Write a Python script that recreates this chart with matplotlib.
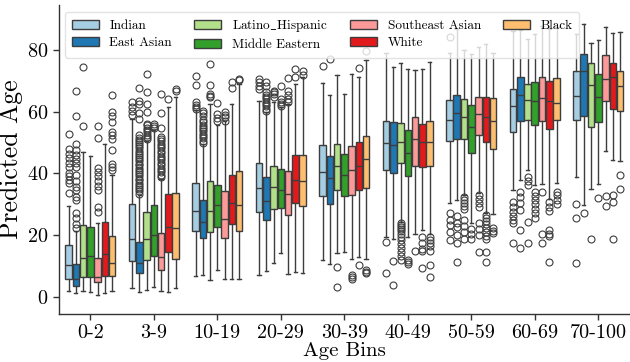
import matplotlib
matplotlib.use('Agg')
import matplotlib.pyplot as plt
from matplotlib.patches import Patch
import numpy as np

plt.rcParams['font.family'] = ['cmr10', 'DejaVu Serif']
plt.rcParams['mathtext.fontset'] = 'cm'
plt.rcParams['axes.formatter.use_mathtext'] = True

age_bins = ['0-2', '3-9', '10-19', '20-29', '30-39', '40-49', '50-59', '60-69', '70-100']
races = ['Indian', 'East Asian', 'Latino_Hispanic', 'Middle Eastern',
         'Southeast Asian', 'White', 'Black']
legend_labels = ['Indian', 'East Asian', r'Latino$\_$Hispanic', 'Middle Eastern',
                 'Southeast Asian', 'White', 'Black']
colors = ['#a6cee3', '#1f78b4', '#b2df8a', '#33a02c', '#fb9a99', '#e31a1c', '#fdbf6f']

# rows: races, columns: age bins
whis_lo = [
    [2.0, 2.8, 6.6, 7.1, 11.9, 19.5, 30.5, 34.5, 38.8],
    [1.4, 1.5, 7.0, 8.5, 10.6, 18.6, 31.3, 37.7, 29.9],
    [2.0, 2.3, 5.5, 11.1, 14.1, 24.3, 32.9, 41.2, 35.0],
    [1.7, 3.3, 8.7, 14.1, 14.6, 19.3, 24.0, 36.1, 36.4],
    [0.6, 1.9, 5.7, 7.3, 12.4, 20.5, 33.5, 36.4, 47.4],
    [1.2, 1.5, 5.7, 8.2, 12.8, 21.8, 27.0, 31.8, 44.2],
    [2.0, 3.0, 5.7, 7.6, 12.4, 20.5, 26.8, 36.9, 44.0],
]
q1 = [
    [5.7, 11.7, 21.2, 27.5, 32.7, 41.2, 50.4, 53.5, 57.3],
    [3.5, 7.6, 19.1, 24.8, 30.2, 40.2, 51.0, 56.9, 58.7],
    [6.3, 11.9, 21.0, 28.5, 34.5, 43.3, 51.2, 57.3, 54.9],
    [6.3, 13.3, 22.7, 28.7, 32.6, 39.0, 46.7, 55.7, 56.6],
    [4.7, 8.7, 19.1, 26.5, 33.0, 42.3, 52.5, 56.8, 63.5],
    [6.9, 14.5, 23.5, 30.3, 34.7, 42.1, 50.1, 54.4, 60.9],
    [6.6, 12.3, 21.2, 29.5, 35.3, 42.3, 48.0, 57.4, 60.1],
]
median = [
    [10.2, 18.6, 27.8, 35.4, 40.6, 49.8, 57.4, 61.7, 64.9],
    [5.7, 10.9, 24.4, 30.9, 38.5, 49.2, 59.6, 65.4, 73.0],
    [12.6, 18.7, 27.7, 35.7, 42.5, 50.2, 58.2, 63.8, 68.7],
    [13.2, 19.9, 29.7, 34.5, 39.6, 46.6, 54.9, 63.5, 64.6],
    [6.3, 13.0, 25.2, 33.2, 41.2, 51.0, 59.3, 64.4, 70.5],
    [13.8, 22.7, 30.5, 38.0, 42.5, 50.1, 58.2, 63.5, 71.3],
    [11.0, 22.2, 29.7, 37.5, 44.5, 50.0, 57.1, 62.8, 68.2],
]
q3 = [
    [16.8, 30.2, 37.0, 43.2, 49.1, 56.8, 63.8, 67.3, 73.0],
    [10.6, 17.7, 31.4, 38.8, 45.7, 56.6, 65.5, 71.1, 78.6],
    [23.2, 27.4, 37.6, 42.5, 49.4, 56.4, 64.1, 68.9, 75.9],
    [22.6, 29.8, 36.2, 41.4, 46.3, 54.1, 62.2, 69.7, 72.3],
    [12.5, 20.7, 34.2, 40.7, 48.9, 58.2, 64.8, 71.1, 78.4],
    [24.4, 33.2, 39.4, 45.8, 50.1, 56.0, 64.8, 70.0, 75.6],
    [19.7, 33.8, 40.9, 46.0, 52.0, 56.8, 64.4, 70.8, 73.2],
]
whis_hi = [
    [29.4, 57.6, 60.5, 63.5, 69.1, 79.1, 79.1, 86.1, 85.1],
    [21.3, 32.9, 49.4, 59.8, 65.5, 74.5, 86.7, 86.3, 88.5],
    [46.9, 50.5, 62.5, 63.0, 71.8, 75.9, 79.9, 83.4, 82.1],
    [45.6, 54.0, 55.8, 61.4, 65.7, 73.8, 78.8, 85.0, 83.1],
    [23.8, 38.3, 56.8, 62.5, 72.1, 73.5, 81.0, 87.7, 87.4],
    [49.6, 61.4, 62.5, 68.9, 71.3, 73.8, 82.0, 86.7, 85.6],
    [39.4, 64.6, 68.9, 71.3, 76.7, 76.1, 79.1, 87.4, 85.9],
]
fliers_indian = [
    [33.5, 36.8, 38.0, 39.2, 40.1, 42.0, 43.3, 45.0, 46.2, 48.0, 52.9],
    [59.0, 60.1, 61.4, 63.0],
    [60.8, 61.5, 62.2, 63.0, 68.5, 71.5],
    [67.3, 68.4, 69.5, 70.5],
    [74.7],
    [7.6, 17.8],
    [18.5, 21.1, 23.3, 24.9, 27.0, 84.2],
    [17.3, 23.8, 25.0, 26.3, 27.5, 29.0, 30.7],
    [11.1, 25.6, 30.0],
]
fliers_east_asian = [
    [22.2, 23.5, 25.5, 27.0, 31.3, 32.5, 34.5, 35.5, 37.5, 39.5, 42.0, 43.5, 44.7,
     46.0, 47.5, 49.6, 58.7, 66.8],
    [33.4, 34.2, 34.8, 35.6, 36.1, 36.9, 37.7, 38.2, 39.0, 39.8, 40.3, 41.2, 41.8,
     42.6, 43.1, 43.9, 44.7, 45.2, 46.1, 46.6, 47.4, 48.2, 48.7, 49.5, 50.3, 50.8,
     51.6, 52.3, 57.5, 59.7, 62.4, 63.5, 67.7],
    [49.8, 50.6, 51.3, 52.1, 52.8, 53.6, 54.3, 55.1, 55.8, 56.6, 57.3, 58.5, 59.5, 60.3],
    [60.3, 61.0, 61.8, 62.5, 63.2, 64.0, 64.8, 65.5, 66.2, 68.4, 69.5],
    [77.0],
    [3.9, 11.6],
    [11.4, 17.5, 20.0, 22.5, 24.0, 26.1],
    [15.7, 21.6, 28.1, 30.5, 32.5, 34.0],
    [27.0],
]
fliers_latino = [
    [55.2, 74.4],
    [51.0, 51.8, 52.5, 53.3, 54.0, 54.8, 55.5, 56.0, 59.8, 62.5, 66.5, 72.2],
    [64.6, 65.1, 65.7, 68.6, 75.4],
    [64.8, 65.6, 66.2, 66.7],
    [3.3, 9.8],
    [12.0, 13.2, 14.5, 15.8, 17.0, 18.3, 19.5, 20.5, 21.3, 22.0, 22.7, 23.3, 23.8],
    [18.9, 21.0, 23.0, 24.8, 28.6, 29.5, 30.5, 31.5, 32.4],
    [17.3, 24.3, 36.1, 37.5, 38.8],
    [18.7],
]
fliers_middle_eastern = [
    [],
    [54.6, 55.3, 56.0],
    [57.1, 58.0, 59.3, 62.8],
    [61.8, 62.5, 63.2, 64.0, 68.4],
    [],
    [10.8, 11.3, 11.9],
    [18.6, 20.5, 22.0],
    [25.4, 27.0, 28.5, 30.0, 31.5, 32.8, 34.0],
    [32.1],
]
fliers_southeast_asian = [
    [27.5, 29.0, 34.5, 36.0, 37.5, 39.0, 40.5, 41.6, 51.5, 55.3],
    [38.8, 39.6, 40.3, 41.1, 41.8, 42.7, 43.4, 44.2, 45.0, 45.7, 46.5, 47.4, 48.1,
     48.9, 49.6, 50.4, 51.0, 51.7, 54.7, 59.5, 65.7],
    [57.1, 58.2, 59.0, 59.8],
    [63.0, 64.2, 65.5, 66.7, 70.8],
    [5.7, 6.5, 7.1],
    [14.9],
    [14.6, 20.0, 22.0, 24.0, 29.1, 30.5, 31.8, 32.9],
    [17.3, 20.5, 34.0],
    [29.4, 32.8],
]
fliers_white = [
    [],
    [64.1],
    [67.6, 69.5],
    [71.1, 73.8],
    [10.3, 74.1],
    [9.2, 15.0, 15.5, 17.5, 19.4],
    [11.4, 14.6, 18.6, 19.8, 21.0, 22.3, 23.5, 24.5, 25.5, 26.5],
    [11.2, 19.8, 20.5, 21.5, 27.8, 29.2, 30.7],
    [18.9, 30.7, 33.1],
]
fliers_black = [
    [41.0, 42.0, 43.0, 47.6, 51.0, 52.5, 53.3, 56.6, 58.7, 60.0, 65.3],
    [66.8, 67.3],
    [70.2, 70.7],
    [72.0, 73.2],
    [7.6, 8.2, 8.7, 79.5],
    [6.3, 10.3, 15.0, 16.5, 17.5, 18.5, 19.4],
    [20.6, 21.4, 22.2],
    [30.2, 31.5, 33.0, 34.0],
    [34.8, 39.6],
]
fliers = [fliers_indian, fliers_east_asian, fliers_latino, fliers_middle_eastern,
          fliers_southeast_asian, fliers_white, fliers_black]

fig = plt.figure(figsize=(6.3, 3.62), dpi=100)
ax = fig.add_axes([0.093, 0.133, 0.907, 0.853])

line = (0.24, 0.24, 0.24)
n = len(races)
w = 0.8 / n
base = np.arange(len(age_bins))
for r in range(n):
    stats = []
    for b in range(len(age_bins)):
        stats.append(dict(med=median[r][b], q1=q1[r][b], q3=q3[r][b],
                          whislo=whis_lo[r][b], whishi=whis_hi[r][b],
                          fliers=fliers[r][b]))
    pos = base - 0.4 + w * (r + 0.5)
    ax.bxp(stats, positions=pos, widths=w * 0.9, patch_artist=True,
           manage_ticks=False,
           boxprops=dict(facecolor=colors[r], edgecolor=line, linewidth=1.0),
           whiskerprops=dict(color=line, linewidth=1.0),
           capprops=dict(color=line, linewidth=1.0),
           medianprops=dict(color=line, linewidth=1.0),
           flierprops=dict(marker='o', markerfacecolor='none', markeredgecolor=line,
                           markersize=5, markeredgewidth=0.8))

ax.set_xlim(-0.5, len(age_bins) - 0.5)
ax.set_ylim(-5.5, 94.5)
ax.set_xticks(base)
ax.set_xticklabels(age_bins)
ax.set_yticks([0, 20, 40, 60, 80])
ax.tick_params(axis='both', labelsize=14.5, length=4, width=1, color='#333333')
ax.set_xlabel('Age Bins', fontsize=15, labelpad=0)
ax.set_ylabel('Predicted Age', fontsize=18.5, labelpad=3)
for s in ['top', 'right']:
    ax.spines[s].set_visible(False)
for s in ['left', 'bottom']:
    ax.spines[s].set_color('#333333')
    ax.spines[s].set_linewidth(1.0)

handles = [Patch(facecolor=c, edgecolor=line, linewidth=1.0) for c in colors]
leg = ax.legend(handles, legend_labels, loc='upper left', ncol=4, fontsize=9.5,
                frameon=True, fancybox=True, framealpha=0.8, edgecolor='#dddddd',
                handlelength=2.05, handleheight=0.7, borderaxespad=0.5,
                columnspacing=1.7, labelspacing=0.35, borderpad=0.5)

fig.savefig('out.png', dpi=100)
